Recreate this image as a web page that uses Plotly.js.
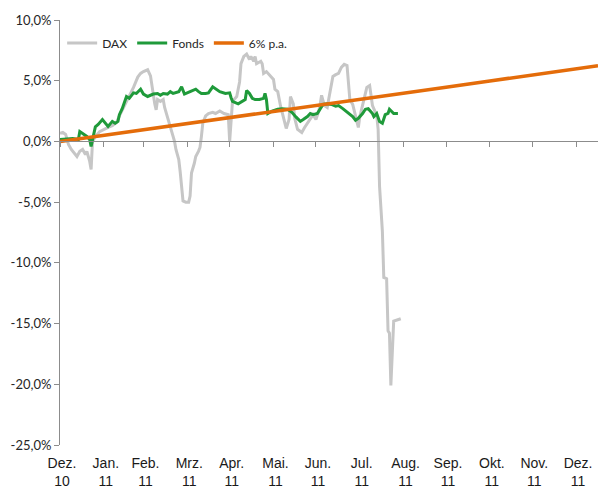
<!DOCTYPE html>
<html>
<head>
<meta charset="utf-8">
<script src="https://cdn.plot.ly/plotly-3.0.1.min.js"></script>
<style>html,body{margin:0;padding:0;background:#fff;}#chart{width:598px;height:490px;}</style>
</head>
<body>
<div id="chart"></div>
<script>
// DAX (gray)
const daxDates = ["2010-12-31","2011-01-02","2011-01-04","2011-01-06","2011-01-08","2011-01-10","2011-01-12","2011-01-14","2011-01-16","2011-01-18","2011-01-19","2011-01-21","2011-01-22","2011-01-23","2011-01-25","2011-01-28","2011-01-31",
"2011-02-03","2011-02-06","2011-02-09","2011-02-11","2011-02-14","2011-02-16","2011-02-19","2011-02-21","2011-02-24","2011-02-26","2011-02-28",
"2011-03-02","2011-03-03","2011-03-05","2011-03-06","2011-03-08","2011-03-09","2011-03-10","2011-03-12","2011-03-14","2011-03-15","2011-03-17","2011-03-20","2011-03-22","2011-03-23","2011-03-25","2011-03-26","2011-03-28","2011-03-30",
"2011-04-01","2011-04-02","2011-04-03","2011-04-05","2011-04-06","2011-04-08","2011-04-09","2011-04-10","2011-04-11","2011-04-13","2011-04-15","2011-04-18","2011-04-20","2011-04-23","2011-04-26","2011-04-29","2011-04-30",
"2011-05-02","2011-05-05","2011-05-07","2011-05-08","2011-05-10","2011-05-12","2011-05-14","2011-05-15","2011-05-17","2011-05-18","2011-05-19","2011-05-22","2011-05-23","2011-05-24","2011-05-26","2011-05-29","2011-05-31",
"2011-06-01","2011-06-03","2011-06-05","2011-06-07","2011-06-09","2011-06-11","2011-06-12","2011-06-14","2011-06-15","2011-06-17","2011-06-20","2011-06-22","2011-06-24","2011-06-26","2011-06-28","2011-06-30",
"2011-07-02","2011-07-03","2011-07-04","2011-07-06","2011-07-08","2011-07-09","2011-07-11","2011-07-12","2011-07-14","2011-07-16","2011-07-18","2011-07-20","2011-07-22","2011-07-23","2011-07-24","2011-07-26","2011-07-28","2011-07-30","2011-07-31",
"2011-08-02","2011-08-04","2011-08-05","2011-08-07","2011-08-08","2011-08-09","2011-08-12","2011-08-13","2011-08-14","2011-08-16","2011-08-17","2011-08-19","2011-08-20","2011-08-21","2011-08-22","2011-08-24","2011-08-29"];
const daxValues = [0.66,0.74,0.58,-0.25,-0.66,-1.0,-1.24,-0.82,-0.66,-1.07,-0.82,-1.65,-2.3,0.0,0.4,0.8,1.0,
1.15,1.3,1.55,2.1,2.8,3.3,3.95,4.45,5.3,5.6,5.75,
5.85,5.9,5.4,4.5,3.1,2.6,3.45,3.3,3.45,2.8,2.0,1.0,0.0,-0.66,-1.5,-2.5,-4.9,-5.0,
-5.0,-4.5,-2.6,-1.8,-1.24,-0.8,-0.5,0.4,1.5,2.1,2.3,2.4,2.3,2.5,2.3,2.2,0.0,
3.3,3.7,4.9,6.4,7.0,7.2,6.75,7.0,6.6,7.0,6.4,6.6,6.4,5.6,5.75,5.35,5.1,
4.3,4.1,2.9,1.9,1.07,1.8,3.7,3.1,1.9,1.0,0.74,1.15,1.5,1.9,2.2,1.8,
2.5,3.05,3.8,2.95,2.8,3.45,4.6,5.35,5.5,5.6,6.1,6.35,6.25,4.95,3.45,3.05,2.2,1.15,2.0,
2.95,3.9,4.45,4.6,3.6,2.95,2.15,1.0,-3.7,-7.4,-11.2,-11.3,-15.6,-15.8,-20.1,-14.8,-14.6];

// Fonds (green)
const fondsDates = ["2010-12-31","2011-01-06","2011-01-09","2011-01-13","2011-01-14","2011-01-16","2011-01-19","2011-01-21","2011-01-22","2011-01-25","2011-01-27","2011-01-30",
"2011-02-01","2011-02-03","2011-02-06","2011-02-08","2011-02-10","2011-02-11","2011-02-13","2011-02-15","2011-02-16","2011-02-18","2011-02-21","2011-02-23","2011-02-26","2011-02-28",
"2011-03-03","2011-03-07","2011-03-10","2011-03-12","2011-03-14","2011-03-17","2011-03-19","2011-03-21","2011-03-25","2011-03-27","2011-03-28","2011-03-29",
"2011-04-02","2011-04-06","2011-04-08","2011-04-10","2011-04-13","2011-04-15","2011-04-18","2011-04-21","2011-04-23","2011-04-27","2011-04-30",
"2011-05-01","2011-05-02","2011-05-06","2011-05-09","2011-05-11","2011-05-12","2011-05-14","2011-05-16","2011-05-18","2011-05-21","2011-05-24","2011-05-25","2011-05-26","2011-05-27","2011-05-30",
"2011-06-03","2011-06-06","2011-06-10","2011-06-13","2011-06-16","2011-06-19","2011-06-21","2011-06-24","2011-06-26","2011-06-28",
"2011-07-01","2011-07-03","2011-07-05","2011-07-08","2011-07-11","2011-07-14","2011-07-16","2011-07-19","2011-07-21","2011-07-23","2011-07-26","2011-07-28","2011-07-30",
"2011-08-02","2011-08-04","2011-08-06","2011-08-09","2011-08-10","2011-08-12","2011-08-14","2011-08-16","2011-08-18","2011-08-20","2011-08-21","2011-08-24","2011-08-27"];
const fondsValues = [0.16,0.25,0.25,0.16,0.82,0.66,0.41,0.16,-0.41,1.2,1.4,1.8,
1.5,1.24,1.65,1.5,1.65,2.2,2.7,3.3,3.7,3.55,4.0,3.95,4.3,3.9,
3.7,3.9,3.95,3.8,3.95,3.9,4.1,3.95,4.1,4.5,4.1,3.9,
4.1,4.3,4.1,3.95,3.95,4.0,4.5,4.3,4.1,3.95,4.0,
3.6,3.3,3.1,3.3,3.45,4.2,3.95,3.55,3.45,3.45,3.55,3.95,3.45,2.3,2.5,
2.65,2.7,2.65,2.4,2.0,1.65,1.8,2.05,2.3,2.2,
2.3,2.7,3.05,3.1,3.05,2.9,2.95,2.7,2.5,2.3,2.05,1.75,1.9,
2.3,2.65,2.7,2.3,2.05,2.3,1.65,1.5,2.2,2.3,2.65,2.3,2.3];

// 6% p.a. (orange), read at month ends
const paDates = ["2010-12-31","2011-01-31","2011-02-28","2011-03-31","2011-04-30","2011-05-31","2011-06-30","2011-07-31","2011-08-31","2011-09-30","2011-10-31","2011-11-30","2011-12-31","2012-01-15 12:00"];
const paValues = [0,0.5,0.97,1.48,1.97,2.48,2.97,3.48,3.98,4.47,4.98,5.47,5.98,6.23];

// Axis labels
const monthTicks = ["2010-12-31","2011-01-31","2011-02-28","2011-03-31","2011-04-30","2011-05-31","2011-06-30","2011-07-31","2011-08-31","2011-09-30","2011-10-31","2011-11-30","2011-12-31"];
const monthLabels = ["Dez.<br>10","Jan.<br>11","Feb.<br>11","Mrz.<br>11","Apr.<br>11","Mai.<br>11","Jun.<br>11","Jul.<br>11","Aug.<br>11","Sep.<br>11","Okt.<br>11","Nov.<br>11","Dez.<br>11"];
const yTickVals = [-25,-20,-15,-10,-5,0,5,10];
const yTickText = ["-25,0%","-20,0%","-15,0%","-10,0%","-5,0%","0,0%","5,0%","10,0%"];

const xRange = ["2010-12-31","2012-01-15 12:00"];
const axisGray = "#8c8c8c";

const traces = [
  {x: daxDates, y: daxValues, name: "DAX", mode: "lines", line: {color: "#c6c6c6", width: 3}},
  {x: fondsDates, y: fondsValues, name: "Fonds", mode: "lines", line: {color: "#1f9a3a", width: 3}},
  {x: paDates, y: paValues, name: "6% p.a.", mode: "lines", xaxis: "x2", line: {color: "#e46c0a", width: 3.5}}
];

const layout = {
  width: 598, height: 490,
  margin: {l: 60, r: 0, t: 20, b: 45},
  paper_bgcolor: "#fff", plot_bgcolor: "#fff",
  showlegend: true,
  legend: {orientation: "h", x: 0.004, xanchor: "left", y: 0.946, yanchor: "middle",
    font: {family: "Lato, 'Noto Sans', sans-serif", size: 12, color: "#262626"},
    itemwidth: 30, bgcolor: "rgba(0,0,0,0)"},
  xaxis: {type: "date", range: xRange, tickvals: monthTicks, ticktext: monthLabels,
    showgrid: false, zeroline: false, showline: false, ticks: "",
    ticklabelstandoff: 8, ticklabelshift: 2,
    tickfont: {family: "'Liberation Sans', Arial, sans-serif", size: 14, color: "#1a1a1a"}},
  xaxis2: {type: "date", range: xRange, overlaying: "x", anchor: "free", position: 25/35,
    tickvals: monthTicks, showticklabels: false, showgrid: false, zeroline: false,
    showline: true, linecolor: axisGray, linewidth: 1, ticks: "outside", ticklen: 5, tickcolor: axisGray},
  yaxis: {range: [-25, 10], tickvals: yTickVals, ticktext: yTickText,
    showgrid: false, zeroline: false, showline: true, linecolor: axisGray, linewidth: 1,
    ticks: "outside", ticklen: 5, tickcolor: axisGray,
    tickfont: {family: "Lato, 'Noto Sans', sans-serif", size: 13, color: "#262626"}}
};

Plotly.newPlot("chart", traces, layout, {staticPlot: true, displayModeBar: false});
</script>
</body>
</html>
